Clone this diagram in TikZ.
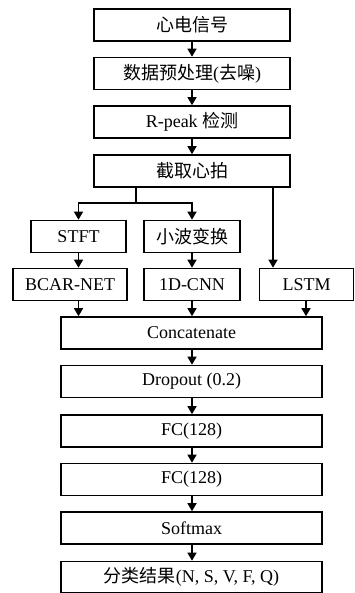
\documentclass[tikz,border=0pt]{standalone}
\usepackage{fontspec}
\setmainfont{Liberation Serif}
\newfontfamily\cjkfont{Noto Sans CJK SC}
\newcommand{\zh}[1]{{\cjkfont #1}}
\usetikzlibrary{arrows.meta}
\begin{document}
\begin{tikzpicture}[x=1pt,y=-1pt,
  box/.style={draw,line width=1.6pt,inner sep=0pt,minimum height=32pt,font=\fontsize{18}{20}\selectfont},
  arr/.style={line width=1.3pt,-{Triangle[length=8pt,width=9pt]}},
  ln/.style={line width=1.3pt}]
\useasboundingbox (0,0) rectangle (355,593);
\node[box,minimum width=196pt] (sig) at (192,25) {\zh{心电信号}};
\node[box,minimum width=196pt] (pre) at (192,73.5) {\zh{数据预处理}(\zh{去噪})};
\node[box,minimum width=196pt] (rpk) at (192,122) {R-peak \zh{检测}};
\node[box,minimum width=196pt] (cut) at (192,171) {\zh{截取心拍}};
\node[box,minimum width=95pt] (stft) at (78.5,236.5) {STFT};
\node[box,minimum width=96pt] (wav) at (192,236.5) {\zh{小波变换}};
\node[box,minimum width=114pt] (bcar) at (70,284.5) {BCAR-NET};
\node[box,minimum width=96pt] (cnn) at (192,284.5) {1D-CNN};
\node[box,minimum width=94pt] (lstm) at (306.5,284.5) {LSTM};
\node[box,minimum width=261pt] (cat) at (191.5,333) {Concatenate};
\node[box,minimum width=261pt] (drop) at (191.5,381.5) {Dropout (0.2)};
\node[box,minimum width=261pt] (fc1) at (191.5,431) {FC(128)};
\node[box,minimum width=261pt] (fc2) at (191.5,479.5) {FC(128)};
\node[box,minimum width=261pt] (soft) at (191.5,528) {Softmax};
\node[box,minimum width=261pt,minimum height=31pt] (res) at (191.5,577) {\zh{分类结果}(N, S, V, F, Q)};
\draw[arr] (sig) -- (pre);
\draw[arr] (pre) -- (rpk);
\draw[arr] (rpk) -- (cut);
\coordinate (br) at (136,203);
\coordinate (ca) at (136,171);
\coordinate (cb) at (273,171);
\draw[ln] (cut.south -| ca) -- (br);
\draw[arr] (br) -| (stft.north);
\draw[arr] (br) -| (wav.north);
\draw[arr] (cut.south -| cb) -- (lstm.north -| cb);
\draw[arr] (stft) -- (stft |- bcar.north);
\draw[arr] (wav) -- (cnn);
\draw[arr] (bcar.south -| stft) -- (cat.north -| stft);
\draw[arr] (cnn) -- (cat.north -| cnn);
\coordinate (lx) at (306,300);
\draw[arr] (lstm.south -| lx) -- (cat.north -| lx);
\draw[arr] (cat.south -| cnn) -- (drop.north -| cnn);
\draw[arr] (drop.south -| cnn) -- (fc1.north -| cnn);
\draw[arr] (fc1.south -| cnn) -- (fc2.north -| cnn);
\draw[arr] (fc2.south -| cnn) -- (soft.north -| cnn);
\draw[arr] (soft.south -| cnn) -- (res.north -| cnn);
\end{tikzpicture}
\end{document}
